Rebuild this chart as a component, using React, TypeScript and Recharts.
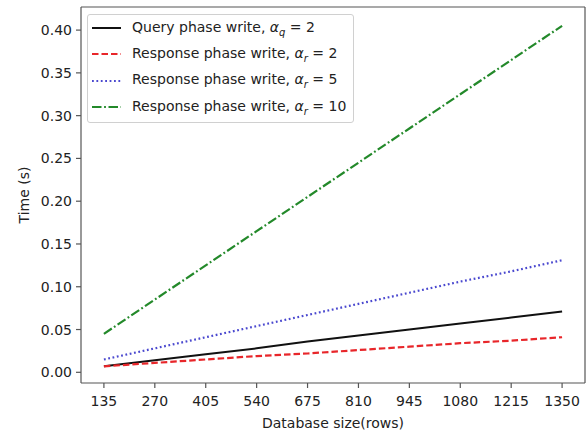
import React from "react";
import { LineChart, Line, XAxis, YAxis, ReferenceLine } from "recharts";

const rows = [135, 270, 405, 540, 675, 810, 945, 1080, 1215, 1350];
const queryQ2 = [0.007, 0.014, 0.021, 0.028, 0.036, 0.043, 0.05, 0.057, 0.064, 0.071];
const respR2 = [0.007, 0.011, 0.015, 0.019, 0.022, 0.026, 0.03, 0.034, 0.037, 0.041];
const respR5 = [0.015, 0.028, 0.041, 0.054, 0.067, 0.08, 0.093, 0.106, 0.118, 0.131];
const respR10 = [0.045, 0.085, 0.125, 0.165, 0.205, 0.245, 0.285, 0.325, 0.365, 0.405];
const yTicks = [0, 0.05, 0.1, 0.15, 0.2, 0.25, 0.3, 0.35, 0.4];

const data = rows.map((r, i) => ({
  rows: r,
  q2: queryQ2[i],
  r2: respR2[i],
  r5: respR5[i],
  r10: respR10[i],
}));

const FONT = "DejaVu Sans, sans-serif";
const X_DOMAIN: [number, number] = [74.25, 1410.75];
const Y_DOMAIN: [number, number] = [-0.0125, 0.427];

const legendItems = [
  { label: "Query phase write, ", sym: "q", val: "2", color: "#111", dash: undefined as string | undefined },
  { label: "Response phase write, ", sym: "r", val: "2", color: "#e8262a", dash: "6.5 3" },
  { label: "Response phase write, ", sym: "r", val: "5", color: "#4a48cf", dash: "1.8 2.6" },
  { label: "Response phase write, ", sym: "r", val: "10", color: "#23892a", dash: "9.5 2.6 1.8 2.6" },
];

const LegendBox = () => (
  <div
    style={{
      position: "absolute",
      left: 87,
      top: 14,
      width: 267,
      height: 109,
      border: "1px solid #d0d0d0",
      borderRadius: 3,
      background: "#fff",
      boxSizing: "border-box",
      fontFamily: FONT,
      fontSize: 14,
      color: "#222",
      paddingTop: 0,
    }}
  >
    {legendItems.map((it, i) => (
      <div key={i} style={{ height: 26.3, display: "flex", alignItems: "center" }}>
        <svg width={44} height={10} style={{ flex: "none" }}>
          <line x1={4} y1={5} x2={33} y2={5} stroke={it.color} strokeWidth={2} strokeDasharray={it.dash} />
        </svg>
        <span style={{ whiteSpace: "nowrap" }}>
          {it.label}
          <i>α</i>
          <sub style={{ fontStyle: "italic", fontSize: 10 }}>{it.sym}</sub>
          {" = " + it.val}
        </span>
      </div>
    ))}
  </div>
);

export default function App() {
  return (
    <div style={{ position: "absolute", left: 0, top: 0, width: 588, height: 434, background: "#fff" }}>
      <LineChart
        width={588}
        height={434}
        data={data}
        margin={{ top: 7, right: 3, left: 0, bottom: 0 }}
        style={{ fontFamily: FONT }}
      >
        <XAxis
          dataKey="rows"
          type="number"
          domain={X_DOMAIN}
          ticks={rows}
          interval={0}
          height={51}
          tickSize={5}
          tickMargin={8}
          stroke="#555"
          strokeWidth={1.2}
          tick={{ fill: "#222", fontSize: 14 }}
          label={{ value: "Database size(rows)", position: "insideBottom", offset: 6, fill: "#222", fontSize: 14 }}
        />
        <YAxis
          type="number"
          domain={Y_DOMAIN}
          ticks={yTicks}
          interval={0}
          width={81}
          tickSize={5}
          tickMargin={4}
          stroke="#555"
          strokeWidth={1.2}
          tickFormatter={(v: number) => v.toFixed(2)}
          tick={{ fill: "#222", fontSize: 14 }}
          label={{ value: "Time (s)", angle: -90, position: "insideLeft", offset: 24, fill: "#222", fontSize: 14, style: { textAnchor: "middle" } }}
        />
        <ReferenceLine y={Y_DOMAIN[1]} stroke="#555" strokeWidth={1.2} />
        <ReferenceLine x={X_DOMAIN[1]} stroke="#555" strokeWidth={1.2} />
        <Line dataKey="q2" stroke="#111" strokeWidth={2} dot={false} isAnimationActive={false} />
        <Line dataKey="r2" stroke="#e8262a" strokeWidth={2.2} strokeDasharray="6.5 3" dot={false} isAnimationActive={false} />
        <Line dataKey="r5" stroke="#4a48cf" strokeWidth={2.2} strokeDasharray="1.8 2.6" dot={false} isAnimationActive={false} />
        <Line dataKey="r10" stroke="#23892a" strokeWidth={2.2} strokeDasharray="9.5 2.6 1.8 2.6" dot={false} isAnimationActive={false} />
      </LineChart>
      <LegendBox />
    </div>
  );
}
